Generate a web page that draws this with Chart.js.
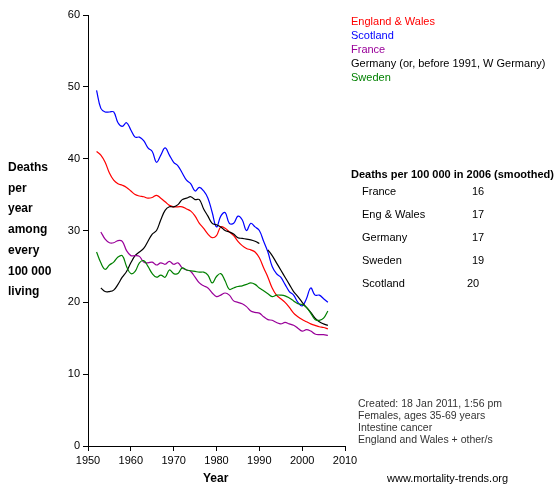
<!DOCTYPE html>
<html>
<head>
<meta charset="utf-8">
<script src="https://cdn.jsdelivr.net/npm/chart.js@4"></script>
<style>
  body { margin: 0; background: #fff; font-family: "Liberation Sans", Arial, sans-serif; }
  #wrap { position: relative; width: 560px; height: 500px; }
  canvas { position: absolute; left: 0; top: 0; }
  .t { position: absolute; font-size: 11px; white-space: nowrap; }
  .b { font-weight: bold; }
  .s { font-size: 10.5px; color: #333; line-height: 12px; }
</style>
</head>
<body>
<div id="wrap">
  <canvas id="chart" width="560" height="500"></canvas>
  <div class="t b" style="left:8px;top:157px;line-height:20.7px;font-size:12px;">Deaths<br>per<br>year<br>among<br>every<br>100 000<br>living</div>
  <div class="t b" style="left:203px;top:471px;font-size:12px;">Year</div>
  <div class="t" style="left:351px;top:15px;color:#ff0000;">England &amp; Wales</div>
  <div class="t" style="left:351px;top:29px;color:#0000ff;">Scotland</div>
  <div class="t" style="left:351px;top:43px;color:#990099;">France</div>
  <div class="t" style="left:351px;top:57px;color:#000;">Germany (or, before 1991, W Germany)</div>
  <div class="t" style="left:351px;top:71px;color:#008000;">Sweden</div>
  <div class="t b" style="left:351px;top:168px;">Deaths per 100 000 in 2006 (smoothed)</div>
  <div id="table"></div>
  <div class="t s" style="left:358px;top:397px;">Created: 18 Jan 2011, 1:56 pm<br>Females, ages 35-69 years<br>Intestine cancer<br>England and Wales + other/s</div>
  <div class="t" style="left:387px;top:472px;">www.mortality-trends.org</div>
</div>
<script>
const years = [];
for (let y = 1952; y <= 2006; y++) years.push(y);

const englandWales = [41, 40.5, 39.5, 38, 37, 36.5, 36.3, 36, 35.5, 35, 34.8, 34.7, 34.5, 34.6, 34.9, 34.5, 34, 33.5, 33.3, 33.3, 33.3, 33, 32.7, 32, 31, 30.3, 29.5, 29, 29.3, 30.5, 30.3, 29.8, 29.3, 28.5, 27.9, 27.5, 27.3, 27, 26.2, 24.8, 23.5, 22, 21, 20.5, 20, 19.3, 18.5, 18, 17.6, 17.3, 17, 16.8, 16.6, 16.5, 16.3];
const scotland = [49.5, 47, 46.5, 46.5, 46.5, 45, 44.5, 45, 44, 43, 43, 42.5, 41.5, 41, 39.5, 40.5, 41.5, 40.5, 39.5, 39, 38, 37, 36.5, 35.5, 36, 35.5, 34.5, 32.5, 30.5, 32, 32.5, 31, 31, 32, 31.5, 30, 31, 30.5, 30, 28.5, 27, 25, 24, 23.5, 22.5, 21.5, 21, 20, 19.5, 20.5, 22, 21, 21, 20.5, 20];
const france = [null, 29.8, 28.8, 28.3, 28.3, 28.6, 28.5, 27.2, 26.5, 26.5, 26.4, 25.6, 25.5, 25.6, 25.2, 25.5, 25.3, 25.7, 25.3, 25.5, 24.8, 24.5, 24.3, 23.5, 22.7, 22.3, 22, 21.3, 20.8, 21, 21.3, 21, 20.2, 20, 19.8, 19.4, 18.8, 18.6, 18.5, 18, 17.6, 17.5, 17.2, 17, 17.2, 17, 16.8, 16.4, 16, 16.2, 16, 15.6, 15.5, 15.5, 15.4];
const germany = [null, 22, 21.5, 21.5, 21.7, 22.5, 23.5, 24.3, 25.5, 26.5, 27, 27.5, 28.5, 29.5, 30, 31.5, 32.8, 33.3, 33.3, 33.6, 34.3, 34.5, 34.7, 34.3, 34.3, 33, 32, 31, 30.8, 30.5, 30, 29.8, 29.5, 29, 28.9, 28.8, 28.7, 28.5, 28.2, null, 27.3, 26.5, 25.5, 24.5, 23.5, 22.5, 21.5, 20.8, 20, 19.3, 18.6, 17.8, 17.3, 17, 16.8];
const sweden = [27, 25.5, 24.6, 25.2, 25.6, 26.3, 26.5, 25, 24, 24.3, 25.5, 25.8, 25, 24, 23.5, 23.8, 23.5, 24.5, 24, 24, 24.8, 24.5, 24.4, 24.3, 24.2, 24.2, 23.8, 22.7, 23.6, 24, 23, 21.8, 22, 22.2, 22.3, 22.5, 22.7, 22.5, 22, 21.6, 21.2, 20.8, 21, 21, 20.9, 20.6, 20.2, 19.8, 19.7, 19.3, 18.5, 17.6, 17.5, 17.8, 18.8];

const tableNames = ['France', 'Eng & Wales', 'Germany', 'Sweden', 'Scotland'];
const tableValues = [16, 17, 17, 19, 20];

const table = document.getElementById('table');
tableNames.forEach((name, i) => {
  const top = 185 + i * 23;
  table.insertAdjacentHTML('beforeend',
    `<div class="t" style="left:362px;top:${top}px;">${name}</div>` +
    `<div class="t" style="left:${i === 4 ? 467 : 472}px;top:${top}px;">${tableValues[i]}</div>`);
});

function series(data, color) {
  return {
    data: years.map((y, i) => ({ x: y, y: data[i] })),
    borderColor: color,
    borderWidth: 1.2,
    pointRadius: 0,
    tension: 0.4,
    spanGaps: false
  };
}

new Chart(document.getElementById('chart'), {
  type: 'line',
  data: {
    datasets: [
      series(sweden, '#008000'),
      series(france, '#990099'),
      series(germany, '#000000'),
      series(englandWales, '#ff0000'),
      series(scotland, '#0000ff')
    ]
  },
  options: {
    responsive: false,
    animation: false,
    layout: { padding: { left: 60, right: 215, top: 15, bottom: 0 } },
    plugins: { legend: { display: false }, tooltip: { enabled: false } },
    scales: {
      x: {
        type: 'linear', min: 1950, max: 2010,
        afterFit(scale) { scale.height = 54; },
        grid: { drawOnChartArea: false, color: '#000', tickLength: 5 },
        border: { color: '#000' },
        ticks: { stepSize: 10, color: '#000', font: { size: 11, family: 'Liberation Sans' }, callback: (v) => v }
      },
      y: {
        min: 0, max: 60,
        afterFit(scale) { scale.width = 28; },
        grid: { drawOnChartArea: false, color: '#000', tickLength: 5 },
        border: { color: '#000' },
        ticks: { stepSize: 10, color: '#000', font: { size: 11, family: 'Liberation Sans' } }
      }
    }
  }
});
</script>
</body>
</html>
